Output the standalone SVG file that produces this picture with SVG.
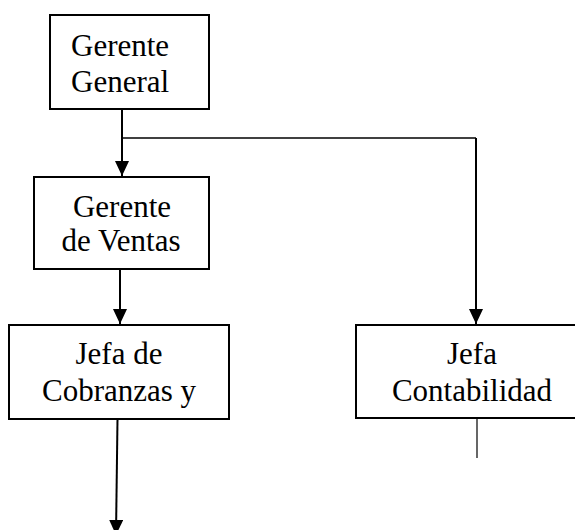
<svg xmlns="http://www.w3.org/2000/svg" width="575" height="530" viewBox="0 0 575 530">
<defs>
<marker id="ah" markerUnits="userSpaceOnUse" markerWidth="15" markerHeight="14" refX="15" refY="7" orient="auto">
<path d="M0,0 L15,7 L0,14 z" fill="#000"/>
</marker>
<style>
.box{fill:#fff;stroke:#000;stroke-width:2}
.t{font-size:31px;fill:#000}
.c{text-anchor:middle}
.ln{stroke:#000;stroke-width:2;fill:none}
</style>
</defs>
<rect width="575" height="530" fill="#fff"/>
<g id="connectors">
<line class="ln" x1="122" y1="109" x2="122" y2="176" marker-end="url(#ah)"/>
<polyline class="ln" style="stroke-width:1.5" points="122,138 476,138"/>
<line class="ln" x1="476" y1="138" x2="476" y2="324" marker-end="url(#ah)"/>
<line class="ln" x1="120" y1="269" x2="120" y2="324" marker-end="url(#ah)"/>
<line class="ln" x1="117.5" y1="419" x2="116" y2="535" marker-end="url(#ah)"/>
<line class="ln" style="stroke-width:1.2" x1="477" y1="419" x2="477" y2="458"/>
</g>
<g font-family="'Liberation Serif', 'Times New Roman', 'DejaVu Serif', serif">
<g id="gerente-general">
<rect class="box" x="50" y="15" width="159" height="94"/>
<text class="t" x="71" y="56">Gerente</text>
<text class="t" x="71" y="92">General</text>
</g>
<g id="gerente-ventas">
<rect class="box" x="34" y="177" width="175" height="92"/>
<text class="t c" x="122" y="217">Gerente</text>
<text class="t c" x="121" y="251">de Ventas</text>
</g>
<g id="jefa-cobranzas">
<rect class="box" x="9" y="325" width="220" height="94"/>
<text class="t c" x="119" y="364">Jefa de</text>
<text class="t c" x="119" y="401">Cobranzas y</text>
</g>
<g id="jefa-contabilidad">
<rect class="box" x="356" y="325" width="232" height="93"/>
<text class="t c" x="472" y="364">Jefa</text>
<text class="t c" x="472" y="401">Contabilidad</text>
</g>
</g>
</svg>
